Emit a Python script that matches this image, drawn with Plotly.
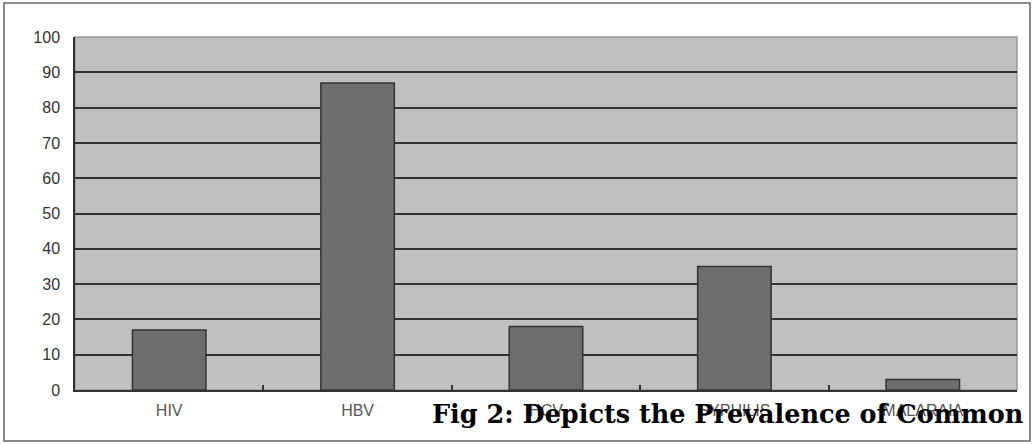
import plotly.graph_objects as go

categories = ["HIV", "HBV", "HCV", "SYPHILIS", "MALARAIA"]
values = [17, 87, 18, 35, 3]
y_ticks = [0, 10, 20, 30, 40, 50, 60, 70, 80, 90, 100]

fig = go.Figure()
fig.add_trace(go.Bar(
    x=categories, y=values, width=0.39,
    marker=dict(color="#6e6e6e", line=dict(color="#333333", width=1.5)),
))

fig.update_layout(
    width=1032, height=444,
    margin=dict(l=75, r=15, t=37, b=54),
    paper_bgcolor="white", plot_bgcolor="#c0c0c0",
    showlegend=False,
    font=dict(family="Liberation Sans, Arial, sans-serif"),
    xaxis=dict(
        showgrid=False, showline=True, linecolor="#333333", linewidth=1.5,
        ticks="inside", ticklen=5, tickcolor="#333333", tickwidth=1.5,
        tickson="boundaries",
        tickfont=dict(size=16, color="#555555"),
        ticklabelstandoff=5,
    ),
    yaxis=dict(
        range=[0, 100], tickvals=y_ticks,
        showgrid=True, gridcolor="#333333", gridwidth=1.5,
        showline=True, linecolor="#333333", linewidth=1.5,
        tickfont=dict(size=16, color="#333333"),
        ticks="", ticklabelstandoff=10,
        zeroline=False,
    ),
    shapes=[
        dict(type="rect", xref="paper", yref="paper", x0=0, x1=1, y0=0, y1=1,
             line=dict(color="#999999", width=1.5), layer="below"),
        dict(type="rect", xref="paper", yref="paper",
             x0=(4 - 75) / 942, x1=(1030 - 75) / 942,
             y0=(390 - 441) / 353, y1=(390 - 3) / 353,
             line=dict(color="#666666", width=1.5)),
    ],
    annotations=[
        dict(text="<b>Fig 2: Depicts the Prevalence of Common</b>",
             xref="paper", yref="paper",
             x=(430 - 75) / 942, y=(390 - 414) / 353,
             xanchor="left", yanchor="middle", showarrow=False,
             font=dict(family="DejaVu Serif, serif", size=25.5, color="black")),
    ],
)

fig.write_html("out.html", config={"displayModeBar": False},
               post_script="document.body.style.margin='0';")
